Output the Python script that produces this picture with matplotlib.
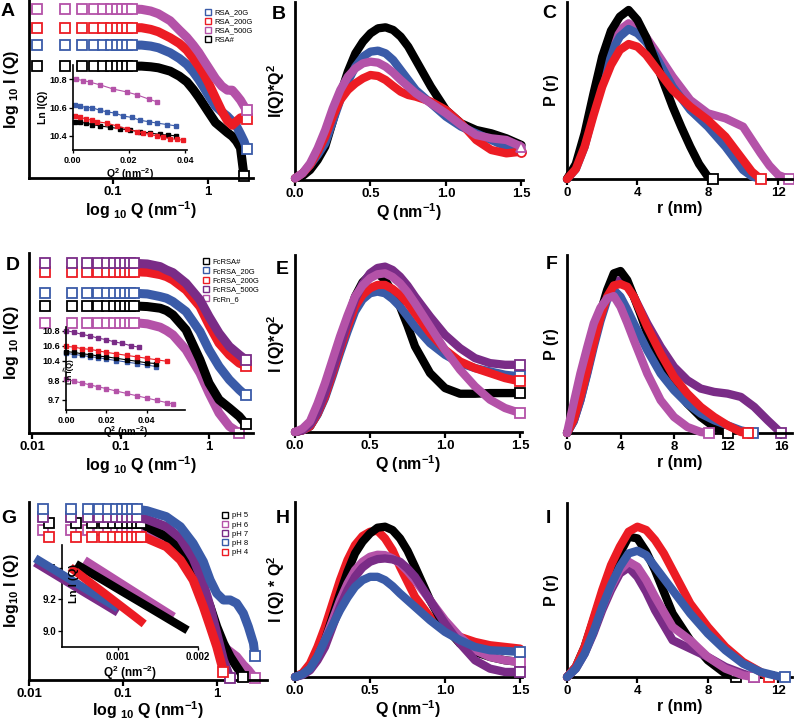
import numpy as np
import matplotlib.pyplot as plt
from matplotlib.lines import Line2D

plt.rcParams['font.family'] = ['Liberation Sans', 'DejaVu Sans']
plt.rcParams['font.weight'] = 'bold'
plt.rcParams['axes.labelweight'] = 'bold'
plt.rcParams['mathtext.fontset'] = 'custom'
plt.rcParams['mathtext.rm'] = 'Liberation Sans:bold'
plt.rcParams['mathtext.bf'] = 'Liberation Sans:bold'
plt.rcParams['mathtext.it'] = 'Liberation Sans:bold'
plt.rcParams['mathtext.default'] = 'rm'

W, H = 794, 720
BLACK = '#000000'
BLUE = '#3A5BA8'
RED = '#EC1C24'
MAGENTA = '#B452A8'
PURPLE = '#7A2C87'

# ---------------- row 1 : RSA ----------------
q_a = [0.0158, 0.0316, 0.0474, 0.0632, 0.079, 0.095, 0.110, 0.126, 0.142, 0.158,
       0.20, 0.25, 0.30, 0.40, 0.50, 0.60, 0.70, 0.80, 0.90, 1.00,
       1.20, 1.40, 1.60, 1.80, 2.00, 2.20, 2.40, 2.55]
rsa_500g = [5.06, 5.06, 5.06, 5.06, 5.06, 5.06, 5.06, 5.06, 5.06, 5.06,
            5.05, 5.00, 4.92, 4.71, 4.43, 4.21, 3.98, 3.76, 3.53, 3.33,
            2.98, 2.75, 2.63, 2.63, 2.48, 2.33, 2.15, 2.05]
rsa_200g = [4.50, 4.50, 4.50, 4.50, 4.50, 4.50, 4.50, 4.50, 4.50, 4.50,
            4.50, 4.45, 4.38, 4.20, 4.03, 3.83, 3.58, 3.35, 3.12, 2.88,
            2.40, 2.00, 1.72, 1.58, 1.70, 1.80, 1.82, 1.78]
rsa_20g = [3.98, 3.98, 3.98, 3.98, 3.98, 3.98, 3.98, 3.98, 3.98, 3.98,
           3.98, 3.95, 3.90, 3.75, 3.58, 3.40, 3.18, 2.95, 2.72, 2.50,
           2.15, 1.98, 1.85, 1.70, 1.55, 1.32, 1.10, 0.88]
rsa_native = [3.35, 3.35, 3.35, 3.35, 3.35, 3.35, 3.35, 3.35, 3.35, 3.35,
              3.35, 3.33, 3.30, 3.20, 3.05, 2.88, 2.65, 2.42, 2.20, 2.00,
              1.66, 1.50, 1.36, 1.25, 1.10, 0.90, 0.05, np.nan]

# inset A (Guinier)
ia_q2_mag = [0.0012, 0.0038, 0.0060, 0.0097, 0.0145, 0.0192, 0.0228, 0.0270, 0.0300]
ia_mag = [10.80, 10.79, 10.78, 10.76, 10.73, 10.71, 10.69, 10.66, 10.64]
ia_q2_blue = [0.0008, 0.0026, 0.0047, 0.0068, 0.0097, 0.0121, 0.0151, 0.0180, 0.0210,
              0.0240, 0.0270, 0.0300, 0.0335, 0.0368]
ia_blue = [10.62, 10.61, 10.60, 10.60, 10.58, 10.57, 10.56, 10.54, 10.53,
           10.51, 10.50, 10.49, 10.48, 10.47]
ia_q2_red = [0.0008, 0.0026, 0.0047, 0.0068, 0.0085, 0.0121, 0.0157, 0.0192, 0.0228,
             0.0252, 0.0275, 0.0299, 0.0323, 0.0347, 0.0370, 0.0392]
ia_red = [10.54, 10.53, 10.52, 10.51, 10.50, 10.49, 10.47, 10.45, 10.43,
          10.42, 10.41, 10.40, 10.39, 10.38, 10.375, 10.37]
ia_q2_black = [0.0008, 0.0026, 0.0047, 0.0068, 0.0097, 0.0133, 0.0169, 0.0204, 0.0240,
               0.0275, 0.0311, 0.0341, 0.0368]
ia_black = [10.50, 10.495, 10.49, 10.48, 10.47, 10.46, 10.45, 10.44, 10.43,
            10.42, 10.41, 10.405, 10.40]

# Kratky Q positions (shared by B, E, H)
q_k = [0.0, 0.05, 0.1, 0.15, 0.2, 0.25, 0.3, 0.35, 0.4, 0.45, 0.5, 0.55, 0.6,
       0.65, 0.7, 0.75, 0.8, 0.9, 1.0, 1.1, 1.2, 1.3, 1.4, 1.5]

# B kratky
kb_black = [0.05, 0.12, 0.30, 0.60, 1.00, 1.75, 2.55, 3.25, 3.80, 4.15, 4.40, 4.55, 4.58,
            4.50, 4.30, 4.00, 3.60, 2.80, 2.10, 1.70, 1.50, 1.40, 1.25, 1.05]
kb_blue = [0.05, 0.20, 0.45, 0.75, 1.10, 1.75, 2.40, 2.95, 3.40, 3.70, 3.85, 3.88, 3.80,
           3.60, 3.30, 3.00, 2.70, 2.30, 1.90, 1.60, 1.40, 1.20, 1.00, 0.95]
kb_mag = [0.05, 0.20, 0.50, 0.95, 1.50, 2.15, 2.70, 3.10, 3.35, 3.50, 3.55, 3.52, 3.40,
          3.22, 3.00, 2.80, 2.60, 2.30, 2.00, 1.65, 1.35, 1.25, 1.20, 1.00]
kb_red = [0.05, 0.20, 0.45, 0.85, 1.30, 1.90, 2.40, 2.70, 2.90, 3.05, 3.15, 3.12, 3.00,
          2.82, 2.65, 2.55, 2.50, 2.35, 2.10, 1.70, 1.20, 0.90, 0.80, 0.85]

# C P(r)
rc_black = [0, 0.5, 1, 1.5, 2, 2.5, 3, 3.5, 4, 4.5, 5, 5.5, 6, 6.5, 7, 7.5, 8, 8.3]
pc_black = [0, 0.45, 1.37, 2.55, 3.67, 4.45, 4.87, 5.07, 4.77, 4.25, 3.57, 2.87, 2.17,
            1.55, 0.97, 0.45, 0.07, 0.0]
rc_blue = [0, 0.5, 1, 1.5, 2, 2.5, 3, 3.5, 4, 4.5, 5, 6, 7, 8, 9, 10, 10.5, 11]
pc_blue = [0, 0.30, 0.97, 2.00, 3.07, 3.80, 4.27, 4.50, 4.37, 4.10, 3.72, 2.77, 2.07,
           1.57, 0.97, 0.27, 0.08, 0.0]
rc_mag = [0, 0.5, 1, 1.5, 2, 2.5, 3, 3.5, 4, 4.5, 5, 6, 7, 8, 9, 10, 11, 11.5, 12, 12.6]
pc_mag = [0, 0.35, 1.07, 2.10, 3.17, 3.95, 4.47, 4.67, 4.52, 4.25, 3.87, 3.07, 2.37,
          1.97, 1.82, 1.57, 0.77, 0.40, 0.12, 0.0]
rc_red = [0, 0.5, 1, 1.5, 2, 2.5, 3, 3.5, 4, 4.5, 5, 6, 7, 8, 9, 10, 10.5, 11]
pc_red = [0, 0.30, 0.97, 1.90, 2.77, 3.42, 3.87, 4.05, 3.97, 3.72, 3.37, 2.67, 2.17,
          1.77, 1.27, 0.57, 0.22, 0.0]

# ---------------- row 2 : FcRSA ----------------
q_d = [0.014, 0.028, 0.042, 0.056, 0.070, 0.084, 0.098, 0.112, 0.126, 0.140,
       0.20, 0.28, 0.33, 0.39, 0.55, 0.79, 1.00, 1.30, 1.70, 2.20, 2.60]
fc_500g = [5.10, 5.10, 5.10, 5.10, 5.10, 5.10, 5.10, 5.10, 5.10, 5.10,
           5.08, 5.00, 4.90, 4.82, 4.50, 4.00, 3.50, 3.00, 2.60, 2.35, 2.20]
fc_200g = [4.85, 4.85, 4.85, 4.85, 4.85, 4.85, 4.85, 4.85, 4.85, 4.85,
           4.83, 4.76, 4.70, 4.60, 4.30, 3.80, 3.25, 2.70, 2.35, 2.10, 2.02]
fc_20g = [4.20, 4.20, 4.20, 4.20, 4.20, 4.20, 4.20, 4.20, 4.20, 4.20,
          4.18, 4.10, 4.05, 3.95, 3.65, 3.05, 2.50, 2.00, 1.60, 1.30, 1.13]
fc_native = [3.82, 3.82, 3.82, 3.82, 3.82, 3.82, 3.82, 3.82, 3.82, 3.82,
             3.80, 3.75, 3.68, 3.55, 3.10, 2.20, 1.50, 1.00, 0.75, 0.50, 0.27]
fcrn_6 = [3.32, 3.32, 3.32, 3.32, 3.32, 3.32, 3.32, 3.32, 3.32, 3.32,
          3.28, 3.18, 3.08, 2.95, 2.50, 1.80, 1.20, 0.60, 0.20, 0.00, np.nan]

id_q2_purple = [0.000, 0.004, 0.008, 0.012, 0.016, 0.020, 0.024, 0.028, 0.032, 0.036]
id_purple = [10.80, 10.78, 10.75, 10.73, 10.70, 10.68, 10.65, 10.63, 10.60, 10.58]
id_q2_red = [0.000, 0.004, 0.008, 0.012, 0.016, 0.020, 0.025, 0.030, 0.035, 0.040, 0.045, 0.050]
id_red = [10.59, 10.58, 10.56, 10.55, 10.53, 10.51, 10.49, 10.47, 10.45, 10.43, 10.41, 10.39]
id_q2_bk = [0.000, 0.004, 0.008, 0.012, 0.016, 0.020, 0.025, 0.030, 0.035, 0.040, 0.0445]
id_black = [10.52, 10.51, 10.49, 10.48, 10.46, 10.45, 10.43, 10.41, 10.39, 10.37, 10.36]
id_blue = [10.50, 10.48, 10.47, 10.45, 10.44, 10.42, 10.40, 10.38, 10.36, 10.34, 10.32]
id_q2_mag = [0.000, 0.004, 0.008, 0.012, 0.016, 0.020, 0.025, 0.030, 0.035, 0.040, 0.045, 0.050, 0.053]
id_mag = [9.807, 9.797, 9.788, 9.778, 9.768, 9.759, 9.746, 9.734, 9.722, 9.710, 9.698, 9.686, 9.679]

ke_purple = [0, 0.05, 0.22, 0.60, 1.17, 1.85, 2.57, 3.30, 3.97, 4.45, 4.77, 4.93, 4.97,
             4.87, 4.67, 4.40, 4.07, 3.47, 2.92, 2.52, 2.22, 2.07, 2.02, 2.02]
ke_mag = [0, 0.10, 0.32, 0.85, 1.47, 2.17, 2.87, 3.50, 4.07, 4.40, 4.62, 4.74, 4.77,
          4.66, 4.47, 4.20, 3.87, 3.17, 2.47, 1.87, 1.37, 0.97, 0.72, 0.57]
ke_black = [0, 0.05, 0.17, 0.55, 1.07, 1.80, 2.57, 3.35, 4.07, 4.50, 4.72, 4.77, 4.57,
            4.20, 3.77, 3.20, 2.57, 1.77, 1.32, 1.15, 1.15, 1.17, 1.17, 1.17]
ke_red = [0, 0.05, 0.17, 0.55, 1.07, 1.75, 2.47, 3.15, 3.77, 4.12, 4.32, 4.42, 4.42,
          4.30, 4.12, 3.88, 3.57, 2.97, 2.47, 2.12, 1.92, 1.77, 1.62, 1.52]
ke_blue = [0, 0.05, 0.17, 0.52, 1.02, 1.68, 2.37, 3.02, 3.62, 3.98, 4.17, 4.22, 4.17,
           4.00, 3.77, 3.48, 3.17, 2.67, 2.32, 2.07, 1.92, 1.82, 1.72, 1.67]

rf_black = [0, 0.5, 1, 1.5, 2, 2.5, 3, 3.5, 4, 4.5, 5, 5.5, 6, 7, 8, 9, 10, 11, 12]
pf_black = [0, 0.40, 1.08, 1.90, 2.78, 3.60, 4.28, 4.78, 4.85, 4.58, 4.08, 3.55, 2.98,
            2.08, 1.38, 0.88, 0.48, 0.18, 0]
rf_red = [0, 0.5, 1, 1.5, 2, 2.5, 3, 3.5, 4, 4.5, 5, 6, 7, 8, 9, 10, 11, 12, 13, 13.5]
pf_red = [0, 0.40, 1.08, 1.85, 2.68, 3.45, 4.08, 4.42, 4.46, 4.38, 4.08, 3.18, 2.38,
          1.68, 1.18, 0.78, 0.48, 0.23, 0.03, 0]
rf_blue = [0, 0.5, 1, 1.5, 2, 2.5, 3, 3.5, 4, 4.5, 5, 6, 7, 8, 9, 10, 11, 12, 13, 13.9]
pf_blue = [0, 0.35, 0.98, 1.75, 2.58, 3.35, 3.98, 4.28, 4.08, 3.70, 3.28, 2.48, 1.78,
           1.28, 0.88, 0.58, 0.38, 0.23, 0.08, 0]
rf_purple = [0, 0.5, 1, 1.5, 2, 2.5, 3, 3.5, 4, 4.5, 5, 6, 7, 8, 9, 10, 11, 12, 13, 14, 15, 16]
pf_purple = [0, 0.35, 0.98, 1.80, 2.68, 3.45, 4.08, 4.50, 4.58, 4.48, 4.08, 3.28, 2.58,
             1.98, 1.58, 1.33, 1.23, 1.18, 1.08, 0.78, 0.38, 0]
rf_mag = [0, 0.5, 1, 1.5, 2, 2.5, 3, 3.5, 4, 4.5, 5, 6, 7, 8, 9, 10, 10.6]
pf_mag = [0, 0.90, 1.78, 2.55, 3.28, 3.75, 4.03, 4.10, 3.78, 3.30, 2.78, 1.78, 0.98,
          0.48, 0.18, 0.03, 0]

# ---------------- row 3 : pH ----------------
q_g = [0.014, 0.028, 0.042, 0.056, 0.070, 0.084, 0.098, 0.112, 0.126, 0.140,
       0.18, 0.29, 0.41, 0.56, 0.72, 0.85, 1.00, 1.18, 1.39, 1.63, 1.92, 2.17, 2.46, 2.55]
q_g2 = [0.0162, 0.0318, 0.0474, 0.063, 0.0786, 0.094, 0.110, 0.125, 0.141, 0.157,
        0.18, 0.29, 0.41, 0.56, 0.72, 0.85, 1.00, 1.18, 1.39, 1.63, 1.92, 2.17, 2.46, 2.55]
ph8 = [5.12, 5.12, 5.12, 5.12, 5.12, 5.12, 5.12, 5.12, 5.12, 5.12,
       5.08, 4.90, 4.60, 4.10, 3.55, 3.00, 2.60, 2.40, 2.40, 2.30, 2.00, 1.60, 1.10, 0.73]
ph7 = [4.88, 4.88, 4.88, 4.88, 4.88, 4.88, 4.88, 4.88, 4.88, 4.88,
       4.82, 4.60, 4.25, 3.65, 2.90, 2.20, 1.40, 0.60, 0.05, np.nan, np.nan, np.nan, np.nan, np.nan]
ph5 = [4.70, 4.70, 4.70, 4.70, 4.70, 4.70, 4.70, 4.70, 4.70, 4.70,
       4.60, 4.30, 3.90, 3.30, 2.70, 2.20, 1.60, 1.10, 0.70, 0.40, 0.10, np.nan, np.nan, np.nan]
ph6 = [4.50, 4.50, 4.50, 4.50, 4.50, 4.50, 4.50, 4.50, 4.50, 4.50,
       4.40, 4.10, 3.70, 3.10, 2.40, 1.90, 1.30, 1.00, 0.85, 0.70, 0.45, 0.30, 0.10, 0.05]
ph4 = [4.30, 4.30, 4.30, 4.30, 4.30, 4.30, 4.30, 4.30, 4.30, 4.30,
       4.25, 4.00, 3.60, 3.00, 2.20, 1.60, 1.00, 0.25, np.nan, np.nan, np.nan, np.nan, np.nan, np.nan]

ig_q2_blue = [-0.00004, 0.0002, 0.0004, 0.0006, 0.0008, 0.0010]
ig_blue = [9.459, 9.386, 9.325, 9.264, 9.204, 9.143]
ig_purple = [9.432, 9.359, 9.298, 9.237, 9.177, 9.116]
ig_q2_red = [0.0004, 0.0006, 0.0008, 0.0010, 0.0012, 0.00133]
ig_red = [9.402, 9.325, 9.249, 9.172, 9.095, 9.044]
ig_q2_black = [0.00047, 0.0008, 0.0011, 0.0014, 0.0017, 0.001875]
ig_black = [9.423, 9.325, 9.235, 9.146, 9.056, 9.004]
ig_q2_mag = [0.00058, 0.0008, 0.0010, 0.0012, 0.0014, 0.0017]
ig_mag = [9.447, 9.377, 9.313, 9.249, 9.185, 9.090]

kh_black = [0, 0.08, 0.25, 0.60, 1.10, 1.80, 2.50, 3.15, 3.70, 4.05, 4.30, 4.47, 4.50,
            4.40, 4.15, 3.78, 3.30, 2.30, 1.50, 1.00, 0.75, 0.60, 0.50, 0.45]
kh_red = [0, 0.12, 0.40, 0.90, 1.50, 2.20, 2.90, 3.50, 3.95, 4.22, 4.35, 4.38, 4.15,
          3.80, 3.30, 2.85, 2.40, 1.80, 1.45, 1.20, 1.05, 0.95, 0.90, 0.85]
kh_mag = [0, 0.08, 0.25, 0.60, 1.10, 1.70, 2.30, 2.80, 3.20, 3.45, 3.60, 3.66, 3.65,
          3.55, 3.40, 3.17, 2.90, 2.30, 1.70, 1.20, 0.80, 0.60, 0.50, 0.45]
kh_purple = [0, 0.06, 0.20, 0.50, 0.90, 1.50, 2.10, 2.60, 3.00, 3.28, 3.45, 3.53, 3.55,
             3.52, 3.45, 3.25, 3.00, 2.30, 1.60, 1.00, 0.50, 0.25, 0.15, 0.15]
kh_blue = [0, 0.08, 0.25, 0.62, 1.10, 1.55, 2.00, 2.38, 2.70, 2.90, 3.00, 3.00, 2.90,
           2.72, 2.50, 2.30, 2.10, 1.70, 1.35, 1.10, 0.90, 0.80, 0.78, 0.75]

ri_red = [0, 0.5, 1, 1.5, 2, 2.5, 3, 3.5, 4, 4.5, 5, 5.5, 6, 7, 8, 9, 10, 11, 11.5]
pi_red = [0, 0.30, 0.90, 1.75, 2.60, 3.35, 3.90, 4.35, 4.50, 4.40, 4.10, 3.70, 3.20,
          2.20, 1.50, 0.90, 0.45, 0.15, 0]
ri_black = [0, 0.5, 1, 1.5, 2, 2.5, 3, 3.5, 4, 4.5, 5, 5.5, 6, 7, 8, 9, 9.6]
pi_black = [0, 0.30, 0.90, 1.70, 2.50, 3.15, 3.70, 4.20, 4.15, 3.75, 3.20, 2.55, 1.90,
            1.10, 0.50, 0.10, 0]
ri_blue = [0, 0.5, 1, 1.5, 2, 2.5, 3, 3.5, 4, 4.5, 5, 6, 7, 8, 9, 10, 11, 12, 12.4]
pi_blue = [0, 0.25, 0.70, 1.35, 2.10, 2.75, 3.30, 3.70, 3.78, 3.65, 3.30, 2.60, 1.90,
           1.30, 0.80, 0.40, 0.15, 0.02, 0]
ri_mag = [0, 0.5, 1, 1.5, 2, 2.5, 3, 3.5, 4, 4.5, 5, 6, 7, 8, 9, 10, 10.6]
pi_mag = [0, 0.30, 0.80, 1.40, 2.10, 2.70, 3.20, 3.45, 3.30, 2.90, 2.40, 1.50, 1.10,
          0.60, 0.25, 0.05, 0]
ri_purple = [0, 0.5, 1, 1.5, 2, 2.5, 3, 3.5, 4, 4.5, 5, 6, 7, 8, 9, 10, 10.6]
pi_purple = [0, 0.25, 0.70, 1.30, 2.00, 2.60, 3.10, 3.28, 3.00, 2.55, 2.00, 1.10, 0.85,
             0.60, 0.30, 0.10, 0]


fig = plt.figure(figsize=(7.94, 7.2), dpi=100)


def px_axes(x0, y0, x1, y1):
    return fig.add_axes([x0 / W, 1 - y1 / H, (x1 - x0) / W, (y1 - y0) / H])


def style(ax, lw=2.0, size=9.5, yticks=False):
    for s in ['top', 'right']:
        ax.spines[s].set_visible(False)
    for s in ['left', 'bottom']:
        ax.spines[s].set_linewidth(lw)
    ax.tick_params(axis='x', direction='out', length=4, width=lw * 0.8, labelsize=size, pad=2)
    ax.tick_params(axis='x', which='minor', length=0)
    if yticks:
        ax.tick_params(axis='y', direction='out', length=3, width=lw * 0.8, labelsize=size, pad=1)
    else:
        ax.tick_params(axis='y', length=0, labelleft=False)
    ax.set_facecolor('none')


def saxs_curve(ax, q, y, color, z, n_open=10):
    q = np.asarray(q, float)
    y = np.asarray(y, float)
    ok = ~np.isnan(y)
    q, y = q[ok], y[ok]
    ax.plot(q[n_open - 2:], y[n_open - 2:], color=color, lw=6.5,
            solid_joinstyle='round', solid_capstyle='round', zorder=z)
    ax.plot(q[:n_open], y[:n_open], ls='none', marker='s', ms=6.5,
            mfc='white', mec=color, mew=1.3, zorder=z + 0.5)
    ax.plot(q[-1:], y[-1:], ls='none', marker='s', ms=6.5,
            mfc='white', mec=color, mew=1.3, zorder=z + 0.5, clip_on=False)


def band(ax, x, y, color, z, end=True, marker='s'):
    ax.plot(x, y, color=color, lw=6, solid_joinstyle='round',
            solid_capstyle='round', zorder=z, clip_on=False)
    if end:
        ax.plot(x[-1:], y[-1:], ls='none', marker=marker, ms=6.5, mfc='white',
                mec=color, mew=1.3, zorder=z + 0.5, clip_on=False)


def legend(ax, labels, colors, anchor):
    handles = [Line2D([], [], ls='none', marker='s', ms=4.5, mfc='white', mec=c, mew=1.0)
               for c in colors]
    ax.legend(handles, labels, loc='upper right', bbox_to_anchor=anchor, frameon=False,
              prop={'size': 5.5, 'weight': 'normal'}, handlelength=0.8,
              handletextpad=0.5, labelspacing=0.25, borderpad=0, borderaxespad=0)


def log_axis(ax, ticks, labels, xlim):
    ax.set_xscale('log')
    ax.set_xlim(*xlim)
    ax.set_xticks(ticks)
    ax.set_xticklabels(labels)
    ax.minorticks_off()


XLAB_LOG = r'log $_{10}$ Q (nm$^{-1}$)'
LAB = 11.5
TICK = 9.5

# ---------- A ----------
axA = px_axes(29, 0, 253, 178)
style(axA, size=TICK)
saxs_curve(axA, q_a, rsa_native, BLACK, 2)
saxs_curve(axA, q_a, rsa_20g, BLUE, 3)
saxs_curve(axA, q_a, rsa_200g, RED, 4)
saxs_curve(axA, q_a, rsa_500g, MAGENTA, 5)
log_axis(axA, [0.1, 1], ['0.1', '1'], (0.0131, 2.98))
axA.set_ylim(0, 5.33)
axA.set_xlabel(XLAB_LOG, fontsize=LAB, labelpad=1)
axA.set_ylabel(r'log $_{10}$ I (Q)', fontsize=LAB, labelpad=6)
legend(axA, ['RSA_20G', 'RSA_200G', 'RSA_500G', 'RSA#'], [BLUE, RED, MAGENTA, BLACK], (1.0, 0.95))

axAi = px_axes(72.7, 65, 187, 150)
style(axAi, lw=1.2, size=6.5, yticks=True)
for qq, yy, c in [(ia_q2_black, ia_black, BLACK), (ia_q2_red, ia_red, RED),
                  (ia_q2_blue, ia_blue, BLUE), (ia_q2_mag, ia_mag, MAGENTA)]:
    axAi.plot(qq, yy, '-s', color=c, lw=0.8, ms=3.2, mec=c, clip_on=False)
axAi.set_xlim(0, 0.0407)
axAi.set_ylim(10.30, 10.90)
axAi.set_xticks([0.0, 0.02, 0.04])
axAi.set_xticklabels(['0.00', '0.02', '0.04'])
axAi.set_yticks([10.4, 10.6, 10.8])
axAi.tick_params(axis='x', length=2.5, pad=1.5)
axAi.set_xlabel(r'Q$^2$ (nm$^{-2}$)', fontsize=7.5, labelpad=1)
axAi.set_ylabel('Ln I(Q)', fontsize=7.5, labelpad=1)

# ---------- B ----------
axB = px_axes(295, 2, 523, 180)
style(axB, size=TICK)
band(axB, q_k, kb_black, BLACK, 2, end=False)
band(axB, q_k, kb_blue, BLUE, 3, marker='^')
band(axB, q_k, kb_red, RED, 4, marker='o')
band(axB, q_k, kb_mag, MAGENTA, 5, marker='^')
axB.set_xlim(0, 1.51)
axB.set_ylim(0, 5.34)
axB.set_xticks([0, 0.5, 1.0, 1.5])
axB.set_xticklabels(['0.0', '0.5', '1.0', '1.5'])
axB.set_xlabel(r'Q (nm$^{-1}$)', fontsize=LAB, labelpad=1)
axB.set_ylabel(r'I(Q)*Q$^2$', fontsize=LAB, labelpad=6)

# ---------- C ----------
axC = px_axes(567, 2, 792, 179)
style(axC, size=TICK)
band(axC, rc_mag, pc_mag, MAGENTA, 2)
band(axC, rc_blue, pc_blue, BLUE, 3, end=False)
band(axC, rc_black, pc_black, BLACK, 4)
band(axC, rc_red, pc_red, RED, 5)
axC.set_xlim(0, 12.78)
axC.set_ylim(0, 5.31)
axC.set_xticks([0, 4, 8, 12])
axC.set_xlabel('r (nm)', fontsize=LAB, labelpad=1)
axC.set_ylabel('P (r)', fontsize=LAB, labelpad=6)

# ---------- D ----------
axD = px_axes(29, 253, 253, 433)
style(axD, size=TICK)
saxs_curve(axD, q_d, fcrn_6, MAGENTA, 2)
saxs_curve(axD, q_d, fc_native, BLACK, 3)
saxs_curve(axD, q_d, fc_20g, BLUE, 4)
saxs_curve(axD, q_d, fc_200g, RED, 5)
saxs_curve(axD, q_d, fc_500g, PURPLE, 6)
log_axis(axD, [0.01, 0.1, 1], ['0.01', '0.1', '1'], (0.00916, 3.15))
axD.set_ylim(0, 5.41)
axD.set_xlabel(XLAB_LOG, fontsize=LAB, labelpad=1)
axD.set_ylabel(r'log $_{10}$ I(Q)', fontsize=LAB, labelpad=6)
legend(axD, ['FcRSA#', 'FcRSA_20G', 'FcRSA_200G', 'FcRSA_500G', 'FcRn_6'],
       [BLACK, BLUE, RED, PURPLE, MAGENTA], (1.03, 0.97))

axDt = px_axes(66, 327, 185, 368)
style(axDt, lw=1.2, size=6.5, yticks=True)
axDt.spines['bottom'].set_visible(False)
axDt.tick_params(axis='x', length=0, labelbottom=False)
for qq, yy, c in [(id_q2_bk, id_blue, BLUE), (id_q2_bk, id_black, BLACK),
                  (id_q2_red, id_red, RED), (id_q2_purple, id_purple, PURPLE)]:
    axDt.plot(qq, yy, '-s', color=c, lw=0.8, ms=3.2, mec=c, clip_on=False)
axDt.set_xlim(0, 0.059)
axDt.set_ylim(10.30, 10.85)
axDt.set_yticks([10.4, 10.6, 10.8])

axDb = px_axes(66, 372, 185, 410)
style(axDb, lw=1.2, size=6.5, yticks=True)
axDb.plot(id_q2_mag, id_mag, '-s', color=MAGENTA, lw=0.8, ms=3.2, mec=MAGENTA, clip_on=False)
axDb.set_xlim(0, 0.059)
axDb.set_ylim(9.648, 9.845)
axDb.set_yticks([9.7, 9.8])
axDb.set_xticks([0.0, 0.02, 0.04])
axDb.set_xticklabels(['0.00', '0.02', '0.04'])
axDb.tick_params(axis='x', length=2.5, pad=1.5)
axDb.set_xlabel(r'Q$^2$ (nm$^{-2}$)', fontsize=7, labelpad=0)
fig.text(71 / W, 1 - 372 / H, 'Ln I(Q)', rotation=90, fontsize=5.5, ha='center', va='center')
fig.text(66 / W, 1 - 370 / H, '\u2248', rotation=70, fontsize=6, ha='center', va='center')

# ---------- E ----------
axE = px_axes(295, 255, 522, 432)
style(axE, size=TICK)
band(axE, q_k, ke_black, BLACK, 2)
band(axE, q_k, ke_blue, BLUE, 3)
band(axE, q_k, ke_red, RED, 4)
band(axE, q_k, ke_purple, PURPLE, 5)
band(axE, q_k, ke_mag, MAGENTA, 6)
axE.set_xlim(0, 1.513)
axE.set_ylim(0, 5.32)
axE.set_xticks([0, 0.5, 1.0, 1.5])
axE.set_xticklabels(['0.0', '0.5', '1.0', '1.5'])
axE.set_xlabel(r'Q (nm$^{-1}$)', fontsize=LAB, labelpad=1)
axE.set_ylabel(r'I (Q)*Q$^2$', fontsize=LAB, labelpad=6)

# ---------- F ----------
axF = px_axes(567, 255, 792, 433)
style(axF, size=TICK)
band(axF, rf_purple, pf_purple, PURPLE, 2)
band(axF, rf_black, pf_black, BLACK, 3)
band(axF, rf_blue, pf_blue, BLUE, 4)
band(axF, rf_red, pf_red, RED, 5)
band(axF, rf_mag, pf_mag, MAGENTA, 6)
axF.set_xlim(0, 16.82)
axF.set_ylim(0, 5.33)
axF.set_xticks([0, 4, 8, 12, 16])
axF.set_xlabel('r (nm)', fontsize=LAB, labelpad=1)
axF.set_ylabel('P (r)', fontsize=LAB, labelpad=6)

# ---------- G ----------
axG = px_axes(29, 502, 267, 680)
style(axG, size=TICK)
saxs_curve(axG, q_g, ph6, MAGENTA, 2)
saxs_curve(axG, q_g2, ph5, BLACK, 3)
saxs_curve(axG, q_g, ph7, PURPLE, 4)
saxs_curve(axG, q_g2, ph4, RED, 5)
saxs_curve(axG, q_g, ph8, BLUE, 6)
log_axis(axG, [0.01, 0.1, 1], ['0.01', '0.1', '1'], (0.0100, 3.43))
axG.set_ylim(0, 5.34)
axG.set_xlabel(XLAB_LOG, fontsize=LAB, labelpad=-1)
axG.set_ylabel(r'log$_{10}$ I (Q)', fontsize=LAB, labelpad=6)
legend(axG, ['pH 5', 'pH 6', 'pH 7', 'pH 8', 'pH 4'],
       [BLACK, MAGENTA, PURPLE, BLUE, RED], (0.92, 0.944))

axGi = px_axes(61.7, 545, 198.3, 646.7)
style(axGi, lw=1.2, size=7, yticks=True)
for qq, yy, c in [(ig_q2_blue, ig_purple, PURPLE), (ig_q2_blue, ig_blue, BLUE),
                  (ig_q2_mag, ig_mag, MAGENTA), (ig_q2_black, ig_black, BLACK),
                  (ig_q2_red, ig_red, RED)]:
    axGi.plot(qq, yy, color=c, lw=6, solid_capstyle='butt', clip_on=False, zorder=3)
axGi.set_xlim(0.000293, 0.00201)
axGi.set_ylim(8.90, 9.543)
axGi.set_xticks([0.001, 0.002])
axGi.set_xticklabels(['0.001', '0.002'])
axGi.set_yticks([9.0, 9.2, 9.4])
axGi.tick_params(axis='x', length=2.5, pad=1.5)
axGi.set_xlabel(r'Q$^2$ (nm$^{-2}$)', fontsize=8.5, labelpad=1)
axGi.text(0.09, 0.62, 'Ln I (Q)', rotation=90, fontsize=8, ha='center', va='center',
          transform=axGi.transAxes)

# ---------- H ----------
axH = px_axes(295, 502, 522, 677)
style(axH, size=TICK)
band(axH, q_k, kh_red, RED, 2, end=False)
band(axH, q_k, kh_black, BLACK, 3, end=False)
band(axH, q_k, kh_mag, MAGENTA, 4)
band(axH, q_k, kh_purple, PURPLE, 5)
band(axH, q_k, kh_blue, BLUE, 6)
axH.set_xlim(0, 1.513)
axH.set_ylim(0, 5.24)
axH.set_xticks([0, 0.5, 1.0, 1.5])
axH.set_xticklabels(['0.0', '0.5', '1.0', '1.5'])
axH.set_xlabel(r'Q (nm$^{-1}$)', fontsize=LAB, labelpad=1)
axH.set_ylabel(r'I (Q) * Q$^2$', fontsize=LAB, labelpad=6)

# ---------- I ----------
axI = px_axes(567, 503, 792, 677)
style(axI, size=TICK)
band(axI, ri_black, pi_black, BLACK, 2)
band(axI, ri_purple, pi_purple, PURPLE, 3)
band(axI, ri_mag, pi_mag, MAGENTA, 4)
band(axI, ri_red, pi_red, RED, 5)
band(axI, ri_blue, pi_blue, BLUE, 6)
axI.set_xlim(0, 12.78)
axI.set_ylim(0, 5.21)
axI.set_xticks([0, 4, 8, 12])
axI.set_xlabel('r (nm)', fontsize=LAB, labelpad=1)
axI.set_ylabel('P (r)', fontsize=LAB, labelpad=6)

# panel letters
for letter, x, y in [('A', 1, 3), ('B', 272, 6), ('C', 542, 5),
                     ('D', 6, 257), ('E', 276, 261), ('F', 546, 256),
                     ('G', 1, 510), ('H', 276, 510), ('I', 546, 510)]:
    fig.text(x / W, 1 - y / H, letter, fontsize=14, ha='left', va='top')

fig.savefig('out.png', dpi=100)
